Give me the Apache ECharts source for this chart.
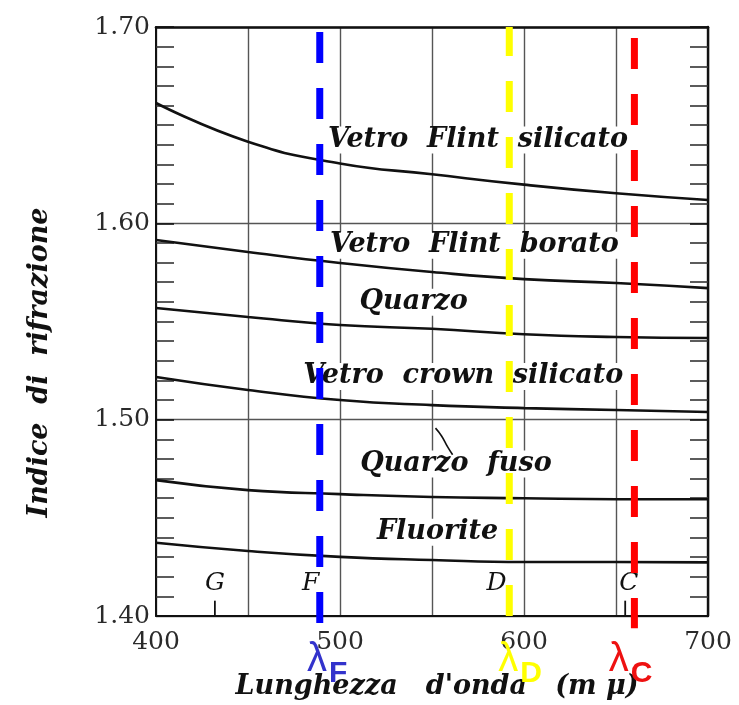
<!DOCTYPE html>
<html>
<head>
<meta charset="utf-8">
<script src="https://cdn.jsdelivr.net/npm/echarts@6/dist/echarts.min.js"></script>
<style>
  html, body { margin: 0; padding: 0; background: #fff; }
  #chart { width: 739px; height: 705px; }
</style>
</head>
<body>
<div id="chart"></div>
<script>
// Wavelength grid (mμ) at which each dispersion curve is sampled
const wavelengths = [400, 450, 500, 550, 600, 650, 700];

// Refractive index of each material
const flintSilicato = [1.6613, 1.6416, 1.6305, 1.6250, 1.6197, 1.6153, 1.6119];
const flintBorato   = [1.5915, 1.5854, 1.5798, 1.5752, 1.5716, 1.5696, 1.5670];
const quarzo        = [1.5569, 1.5523, 1.5482, 1.5463, 1.5435, 1.5421, 1.5416];
const crownSilicato = [1.5217, 1.5151, 1.5100, 1.5074, 1.5059, 1.5049, 1.5039];
const quarzoFuso    = [1.4692, 1.4641, 1.4621, 1.4606, 1.4600, 1.4595, 1.4595];
const fluorite      = [1.4373, 1.4331, 1.4301, 1.4285, 1.4275, 1.4275, 1.4273];

// Curve names and where their names are written [wavelength, index]
const curveNames = ['Vetro  Flint  silicato', 'Vetro  Flint  borato', 'Quarzo', 'Vetro  crown  silicato', 'Quarzo  fuso', 'Fluorite'];
const curveNamePos = [[575, 1.6424], [573, 1.5889], [540, 1.5598], [567, 1.5220], [563, 1.4774], [553, 1.4427]];

// Fraunhofer line letters written near the bottom of the plot
const fraunhoferLetters = ['G', 'F', 'D', 'C'];
const fraunhoferLetterWl = [432, 484, 585, 657];
const fraunhoferLetterIndex = 1.4168;
const fraunhoferTickWl = [432, 655];

// Highlighted reference wavelengths λF, λD, λC
const lambdaNames = ['F', 'D', 'C'];
const lambdaWl = [489, 592, 660];
const lambdaLabelWl = [482, 586, 646];
const lambdaColors = ['#0000ff', '#ffff00', '#ff0000'];
const lambdaTextColors = ['#3333cc', '#ffff00', '#ee1111'];
const lambdaDashOffset = [51, 2, 45];

// Axis tick labels
const yTicks = [1.40, 1.50, 1.60, 1.70];
const xTickLabels = [400, 500, 600, 700];

const serif = '"DejaVu Serif", "Liberation Serif", serif';
const ink = '#111';

const chart = echarts.init(document.getElementById('chart'));

function curve(name, xs, ys) {
  return {
    name: name,
    type: 'line',
    smooth: 0.5,
    symbol: 'none',
    z: 4,
    lineStyle: { color: ink, width: 2.6 },
    data: xs.map((x, i) => [x, ys[i]])
  };
}

const series = [
  curve('Vetro Flint silicato', wavelengths, flintSilicato),
  curve('Vetro Flint borato', wavelengths, flintBorato),
  curve('Quarzo', wavelengths, quarzo),
  curve('Vetro crown silicato', wavelengths, crownSilicato),
  curve('Quarzo fuso', wavelengths, quarzoFuso),
  curve('Fluorite', wavelengths, fluorite)
];

// Curve name labels (white box makes the grid break around them)
series.push({
  type: 'scatter',
  symbolSize: 0,
  z: 3,
  silent: true,
  itemStyle: { opacity: 1 },
  label: {
    show: true,
    position: 'inside',
    formatter: p => p.name,
    fontFamily: serif,
    fontStyle: 'italic',
    fontWeight: 'bold',
    fontSize: 27,
    color: ink,
    backgroundColor: '#fff',
    padding: [0, 3]
  },
  data: curveNames.map((n, i) => ({ name: n, value: curveNamePos[i] }))
});

// Fraunhofer letters
series.push({
  type: 'scatter',
  symbolSize: 0,
  z: 3,
  silent: true,
  itemStyle: { opacity: 1 },
  label: {
    show: true,
    position: 'inside',
    formatter: p => p.name,
    fontFamily: serif,
    fontStyle: 'italic',
    fontSize: 25,
    color: ink
  },
  data: fraunhoferLetters.map((n, i) => ({ name: n, value: [fraunhoferLetterWl[i], fraunhoferLetterIndex] }))
});

// Short tick marks of the G and C lines on the bottom edge
fraunhoferTickWl.forEach(w => {
  series.push({
    type: 'line', symbol: 'none', z: 4, silent: true,
    lineStyle: { color: ink, width: 1.8 },
    data: [[w, 1.40], [w, 1.4078]]
  });
});

// Leader hook under the crown curve pointing to "Quarzo fuso"
series.push({
  type: 'line', symbol: 'none', smooth: true, z: 4, silent: true,
  lineStyle: { color: ink, width: 1.6 },
  data: [[551.9, 1.4957], [555.2, 1.4917], [558.5, 1.4861], [561.2, 1.4821]]
});

// Dashed λ reference lines
lambdaWl.forEach((w, i) => {
  series.push({
    type: 'line', symbol: 'none', z: 10, silent: true, clip: false,
    lineStyle: { color: lambdaColors[i], width: 7, type: [31, 25], dashOffset: lambdaDashOffset[i], cap: 'butt' },
    data: [[w, 1.70], [w, 1.3938]]
  });
});

const option = {
  animation: false,
  backgroundColor: '#fff',
  grid: { left: 156, right: 31, top: 27, bottom: 89 },
  xAxis: [
    {
      type: 'value', min: 400, max: 700, interval: 50, position: 'bottom',
      name: "Lunghezza   d'onda   (m μ)",
      nameLocation: 'middle', nameGap: 57,
      nameTextStyle: { fontFamily: serif, fontStyle: 'italic', fontWeight: 'bold', fontSize: 27, color: ink, padding: [0, 0, 0, 10] },
      axisLine: { show: true, lineStyle: { color: ink, width: 2 } },
      axisTick: { show: false },
      axisLabel: {
        margin: 14,
        fontFamily: serif, fontSize: 25, color: '#2a2a2a',
        formatter: v => (xTickLabels.includes(v) ? String(v) : '')
      },
      splitLine: { show: true, lineStyle: { color: '#555', width: 1.4 } }
    },
    {
      type: 'value', min: 400, max: 700, position: 'top',
      axisLine: { show: true, onZero: false, lineStyle: { color: ink, width: 2.6 } },
      axisTick: { show: false }, axisLabel: { show: false }, splitLine: { show: false }
    }
  ],
  yAxis: [
    {
      type: 'value', min: 1.40, max: 1.70, interval: 0.1, position: 'left',
      name: 'Indice  di  rifrazione',
      nameLocation: 'middle', nameGap: 103, nameRotate: 90,
      nameTextStyle: { fontFamily: serif, fontStyle: 'italic', fontWeight: 'bold', fontSize: 27, color: ink, padding: [0, 82, 0, 0] },
      axisLine: { show: true, lineStyle: { color: ink, width: 2 } },
      axisTick: { show: true, inside: true, length: 18, lineStyle: { color: ink, width: 1.6 } },
      minorTick: { show: true, splitNumber: 10, length: 18, lineStyle: { color: '#333', width: 1.6 } },
      axisLabel: {
        margin: 6,
        fontFamily: serif, fontSize: 25, color: '#2a2a2a',
        formatter: v => {
          const hit = yTicks.find(t => Math.abs(t - v) < 1e-6);
          return hit !== undefined ? hit.toFixed(2) : '';
        }
      },
      splitLine: { show: true, lineStyle: { color: '#555', width: 1.4 } }
    },
    {
      type: 'value', min: 1.40, max: 1.70, interval: 0.1, position: 'right',
      axisLine: { show: true, onZero: false, lineStyle: { color: ink, width: 2.4 } },
      axisTick: { show: true, inside: true, length: 18, lineStyle: { color: ink, width: 1.6 } },
      minorTick: { show: true, splitNumber: 10, length: 18, lineStyle: { color: '#333', width: 1.6 } },
      axisLabel: { show: false },
      splitLine: { show: false }
    }
  ],
  series: series
};

chart.setOption(option);

// λ labels under each dashed line, anchored to the axis scale
const lambdaGraphics = [];
lambdaLabelWl.forEach((w, i) => {
  const p = chart.convertToPixel({ gridIndex: 0 }, [w, 1.40]);
  lambdaGraphics.push({
    type: 'text', x: p[0], y: p[1] + 64, z: 20,
    style: { text: 'λ', fill: lambdaTextColors[i], font: '40px "Liberation Sans", Arial, sans-serif', verticalAlign: 'bottom', align: 'left' }
  });
  lambdaGraphics.push({
    type: 'text', x: p[0] + 22, y: p[1] + 73, z: 20,
    style: { text: lambdaNames[i], fill: lambdaTextColors[i], font: 'bold 30px "Liberation Sans", Arial, sans-serif', verticalAlign: 'bottom', align: 'left' }
  });
});
chart.setOption({ graphic: lambdaGraphics });
</script>
</body>
</html>
